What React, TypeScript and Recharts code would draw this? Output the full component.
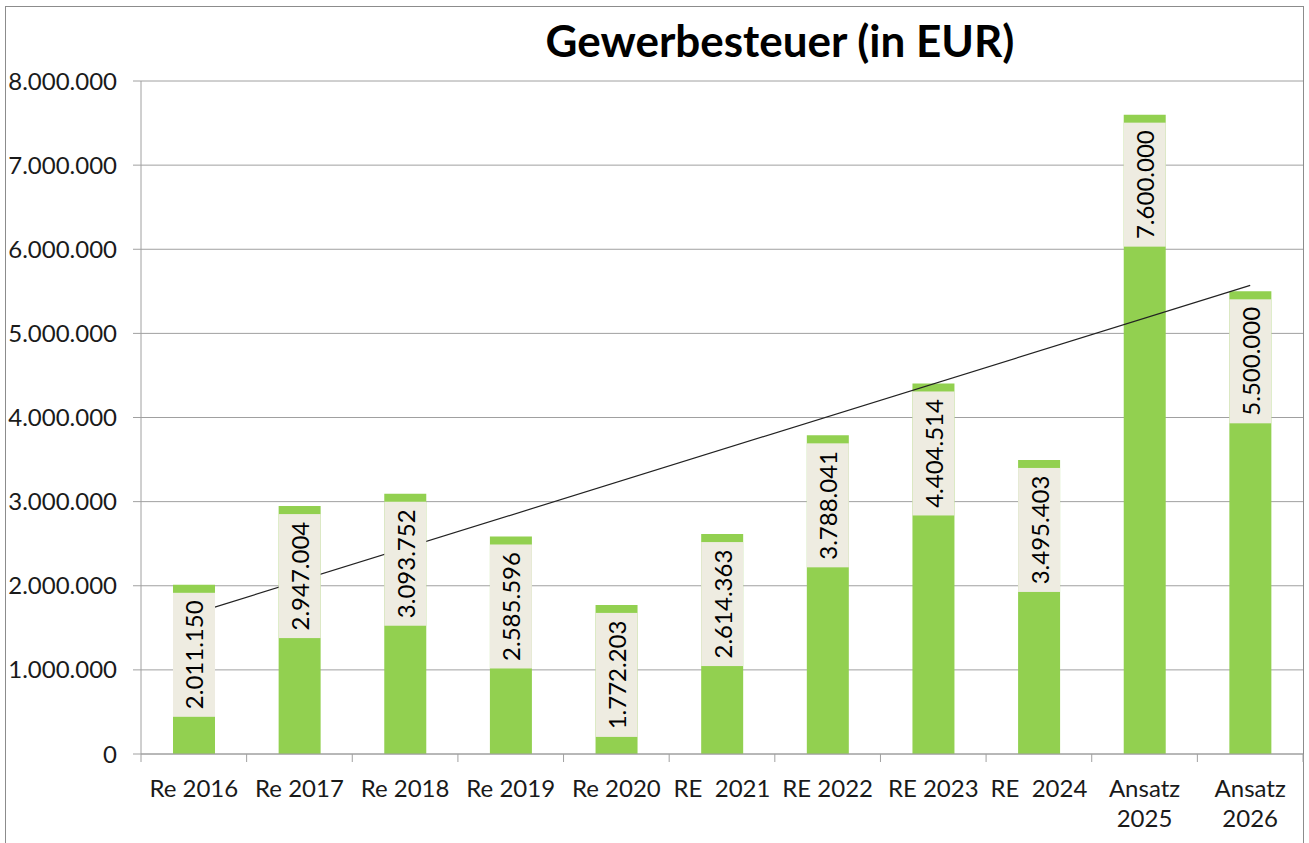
import React from 'react';
import { Bar, CartesianGrid, ComposedChart, LabelList, Line, XAxis, YAxis } from 'recharts';

const categories = ['Re 2016', 'Re 2017', 'Re 2018', 'Re 2019', 'Re 2020', 'RE  2021', 'RE 2022', 'RE 2023', 'RE  2024', 'Ansatz\n2025', 'Ansatz\n2026'];
const gewerbesteuer = [2011150, 2947004, 3093752, 2585596, 1772203, 2614363, 3788041, 4404514, 3495403, 7600000, 5500000];
// linear trend at the first and last category
const trend = [1668600, null, null, null, null, null, null, null, null, null, 5569950];
const yTicks = [0, 1000000, 2000000, 3000000, 4000000, 5000000, 6000000, 7000000, 8000000];

const data = categories.map((name, i) => ({ name, value: gewerbesteuer[i], trend: trend[i] }));

const W = 1309;
const H = 843;
const PLOT_LEFT = 141;
const PLOT_RIGHT = 1303;
const PLOT_TOP = 81;
const PLOT_BOTTOM = 754;
const BAND = (PLOT_RIGHT - PLOT_LEFT) / categories.length;

const FONT = 'Lato, "Noto Sans", sans-serif';
const GRID = '#A0A0A0';
const TEXT = '#1a1a1a';

const fmt = (v: number) => String(Math.round(v)).replace(/\B(?=(\d{3})+(?!\d))/g, '.');

const CategoryTick = (props: any) => {
  const { x, y, payload, index } = props;
  const lines = String(payload.value).split('\n');
  const left = x - BAND / 2;
  return (
    <g>
      <line x1={left} y1={y} x2={left} y2={y + 8} stroke={GRID} />
      {index === categories.length - 1 && <line x1={x + BAND / 2} y1={y} x2={x + BAND / 2} y2={y + 8} stroke={GRID} />}
      <text x={x} y={y + 43} textAnchor="middle" fill={TEXT} fontSize={24} fontFamily={FONT} style={{ whiteSpace: 'pre' }}>
        {lines.map((l, i) => (
          <tspan key={i} x={x} dy={i === 0 ? 0 : 30}>{l}</tspan>
        ))}
      </text>
    </g>
  );
};

const BarValueLabel = (props: any) => {
  const { x, y, width, value } = props;
  const top = Number(y) + 8;
  const boxH = 124;
  const cx = Number(x) + Number(width) / 2;
  const cy = top + boxH / 2;
  return (
    <g>
      <rect x={x} y={top} width={width} height={boxH} fill="#EEECE1" />
      <text x={cx} y={cy} transform={`rotate(-90 ${cx} ${cy})`} textAnchor="middle" dominantBaseline="central" fill="#000" fontSize={24} fontFamily={FONT}>
        {fmt(Number(value))}
      </text>
    </g>
  );
};

export default function App() {
  return (
    <div style={{ position: 'absolute', left: 0, top: 0, width: W, height: H, background: '#fff', overflow: 'hidden' }}>
      <div style={{ position: 'absolute', left: 5, top: 6, width: PLOT_RIGHT - 5 - 1, height: H + 20, border: '1px solid #8c8c8c' }} />
      <div style={{ position: 'absolute', left: 780 - 300, top: 18, width: 600, textAlign: 'center', fontFamily: FONT, fontWeight: 700, fontSize: 44, lineHeight: '44px', color: '#000' }}>
        Gewerbesteuer (in EUR)
      </div>
      <div style={{ position: 'absolute', left: 0, top: 0 }}>
        <ComposedChart width={W} height={H} data={data} margin={{ top: PLOT_TOP, right: W - PLOT_RIGHT, bottom: 0, left: 0 }} barCategoryGap="30%">
          <CartesianGrid vertical={false} stroke={GRID} />
          <XAxis dataKey="name" height={H - PLOT_BOTTOM} tickLine={false} tickSize={0} tickMargin={0} axisLine={{ stroke: GRID }} tick={<CategoryTick />} interval={0} />
          <YAxis
            width={PLOT_LEFT}
            domain={[0, 8000000]}
            ticks={yTicks}
            tickFormatter={fmt}
            tickSize={8}
            tickMargin={16}
            tickLine={{ stroke: GRID }}
            axisLine={{ stroke: GRID }}
            tick={{ fill: TEXT, fontSize: 24, fontFamily: FONT }}
            interval={0}
          />
          <Bar dataKey="value" fill="#92D050" barSize={42} isAnimationActive={false}>
            <LabelList dataKey="value" content={<BarValueLabel />} />
          </Bar>
          <Line dataKey="trend" connectNulls stroke="#222" strokeWidth={1.2} dot={false} activeDot={false} isAnimationActive={false} />
        </ComposedChart>
      </div>
    </div>
  );
}
